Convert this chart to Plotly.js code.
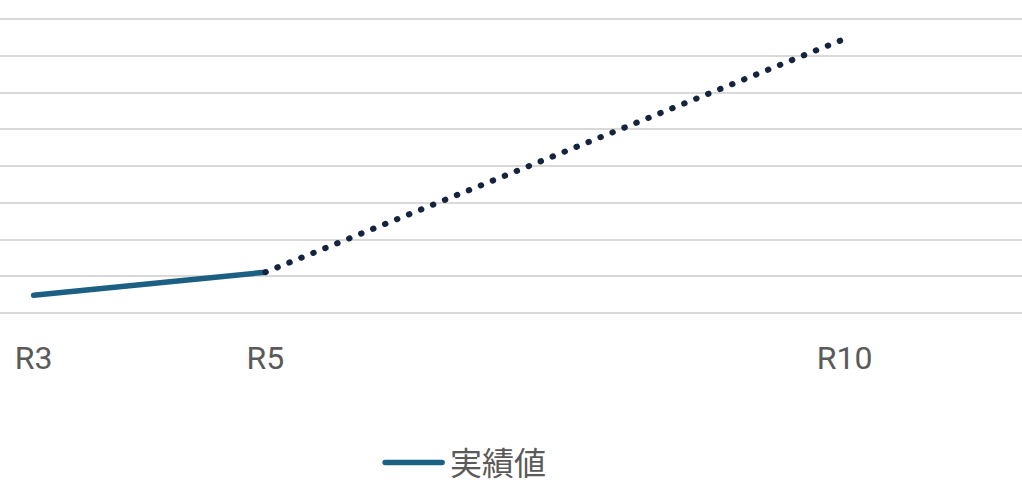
<!DOCTYPE html>
<html>
<head>
<meta charset="utf-8">
<script src="https://cdn.plot.ly/plotly-3.0.1.min.js"></script>
<style>
html,body{margin:0;padding:0;background:#fff;}
#chart{width:1022px;height:483px;}
.js-line{stroke-linecap:round;stroke-linejoin:round;}
</style>
</head>
<body>
<div id="chart"></div>
<script>
// Data
const actualYears = [3, 5];
const actualValues = [0.48, 1.11];
const planYears = [5, 10];
const planValues = [1.11, 7.46];
const tickYears = [3, 5, 10];
const tickLabels = ['R3', 'R5', 'R10'];
const seriesName = '実績値';

const traces = [
  {
    x: actualYears, y: actualValues, name: seriesName, type: 'scatter', mode: 'lines',
    line: {color: '#1b5f82', width: 5.5}, showlegend: true
  },
  {
    x: planYears, y: planValues, name: '目標値', type: 'scatter', mode: 'lines',
    line: {color: '#14243e', width: 6, dash: '0.5px,12.4px'}, showlegend: false
  }
];

const layout = {
  width: 1022, height: 483,
  margin: {l: 0, r: 0, t: 0, b: 170, autoexpand: false},
  paper_bgcolor: '#fff', plot_bgcolor: '#fff',
  xaxis: {
    range: [2.71, 11.53], tickvals: tickYears, ticktext: tickLabels,
    showgrid: false, zeroline: false, showline: false,
    ticks: 'outside', ticklen: 17, tickcolor: 'rgba(0,0,0,0)',
    tickfont: {family: 'Roboto, Arial, sans-serif', size: 32, color: '#5a5a5a'}
  },
  yaxis: {
    range: [0, 8.517], dtick: 1, tick0: 0, showticklabels: false,
    showgrid: true, gridcolor: '#d9d9d9', gridwidth: 2,
    zeroline: true, zerolinecolor: '#d9d9d9', zerolinewidth: 2, showline: false
  },
  showlegend: true,
  legend: {
    orientation: 'h', x: 0.368, xanchor: 'left', y: -0.478, yanchor: 'middle',
    itemwidth: 64,
    font: {family: '"Noto Sans CJK JP", sans-serif', size: 32, color: '#5a5a5a'},
    bgcolor: 'rgba(0,0,0,0)'
  }
};

Plotly.newPlot('chart', traces, layout, {displayModeBar: false, staticPlot: true}).then(function () {
  // lengthen the legend line sample to match the reference
  document.querySelectorAll('.legendlines path').forEach(function (p) {
    p.setAttribute('d', 'M9,0h57');
  });
});
</script>
</body>
</html>
